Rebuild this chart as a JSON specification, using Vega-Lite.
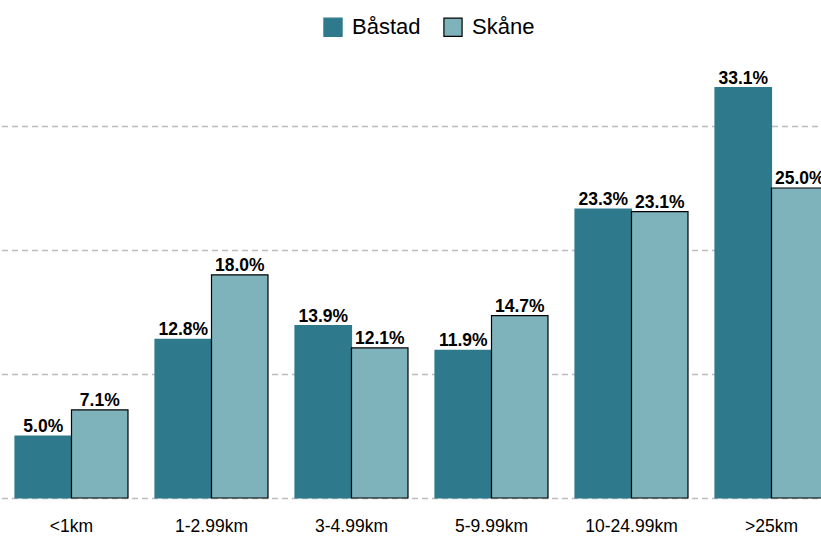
{
  "$schema": "https://vega.github.io/schema/vega-lite/v6.json",
  "width": 821,
  "height": 448,
  "autosize": "none",
  "padding": {"top": 50, "bottom": 39, "left": 0, "right": 0},
  "background": "white",
  "config": {
    "view": {"stroke": null},
    "font": "Liberation Sans",
    "axis": {"labelFont": "Liberation Sans", "titleFont": "Liberation Sans"},
    "legend": {"labelFont": "Liberation Sans"}
  },
  "data": {
    "values": [
      {"cat": "<1km", "series": "Båstad", "value": 0.050},
      {"cat": "<1km", "series": "Skåne", "value": 0.071},
      {"cat": "1-2.99km", "series": "Båstad", "value": 0.128},
      {"cat": "1-2.99km", "series": "Skåne", "value": 0.180},
      {"cat": "3-4.99km", "series": "Båstad", "value": 0.139},
      {"cat": "3-4.99km", "series": "Skåne", "value": 0.121},
      {"cat": "5-9.99km", "series": "Båstad", "value": 0.119},
      {"cat": "5-9.99km", "series": "Skåne", "value": 0.147},
      {"cat": "10-24.99km", "series": "Båstad", "value": 0.233},
      {"cat": "10-24.99km", "series": "Skåne", "value": 0.231},
      {"cat": ">25km", "series": "Båstad", "value": 0.331},
      {"cat": ">25km", "series": "Skåne", "value": 0.250}
    ]
  },
  "encoding": {
    "x": {
      "field": "cat",
      "type": "nominal",
      "sort": ["<1km", "1-2.99km", "3-4.99km", "5-9.99km", "10-24.99km", ">25km"],
      "scale": {"range": [1.5, 841.5], "paddingInner": 0.193, "paddingOuter": 0.0965},
      "axis": {
        "title": null,
        "labelAngle": 0,
        "labelFontSize": 17.5,
        "labelColor": "#000000",
        "labelPadding": 19,
        "ticks": false,
        "domain": false,
        "grid": false
      }
    },
    "xOffset": {
      "field": "series",
      "type": "nominal",
      "scale": {"paddingInner": 0, "paddingOuter": 0}
    },
    "y": {
      "field": "value",
      "type": "quantitative",
      "scale": {"domain": [0, 0.3613], "nice": false, "zero": true},
      "axis": {
        "title": null,
        "labels": false,
        "ticks": false,
        "domain": false,
        "values": [0, 0.1, 0.2, 0.3],
        "grid": true,
        "gridColor": "#bbbbbb",
        "gridDash": [6, 4],
        "gridWidth": 1.3
      }
    }
  },
  "layer": [
    {
      "mark": {"type": "bar", "strokeWidth": 1.2},
      "encoding": {
        "fill": {
          "field": "series",
          "type": "nominal",
          "scale": {"domain": ["Båstad", "Skåne"], "range": ["#2e7a8c", "#7fb3bc"]},
          "legend": {
            "title": null,
            "orient": "none",
            "legendX": 322,
            "legendY": -34,
            "direction": "horizontal",
            "labelFontSize": 22,
            "labelColor": "#000000",
            "symbolType": "square",
            "symbolSize": 330,
            "symbolStrokeWidth": 1.2,
            "symbolOpacity": 1,
            "columnPadding": 20,
            "labelOffset": 8
          }
        },
        "stroke": {
          "field": "series",
          "type": "nominal",
          "scale": {"domain": ["Båstad", "Skåne"], "range": ["#2e7a8c", "#000000"]},
          "legend": {
            "title": null,
            "orient": "none",
            "legendX": 322,
            "legendY": -34,
            "direction": "horizontal",
            "labelFontSize": 22,
            "labelColor": "#000000",
            "symbolType": "square",
            "symbolSize": 330,
            "symbolStrokeWidth": 1.2,
            "symbolOpacity": 1,
            "columnPadding": 20,
            "labelOffset": 8
          }
        }
      }
    },
    {
      "mark": {"type": "text", "baseline": "bottom", "dy": 0, "fontSize": 17.5, "fontWeight": "bold", "color": "#000000"},
      "encoding": {
        "text": {"field": "value", "type": "quantitative", "format": ".1%"}
      }
    }
  ]
}
